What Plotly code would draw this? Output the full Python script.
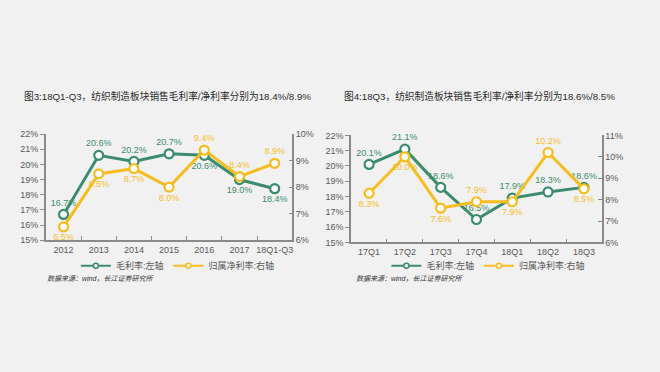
import plotly.graph_objects as go

# ---- data ----
cats_left = ["2012", "2013", "2014", "2015", "2016", "2017", "18Q1-Q3"]
gross_left = [16.7, 20.6, 20.2, 20.7, 20.6, 19.0, 18.4]
net_left = [6.5, 8.5, 8.7, 8.0, 9.4, 8.4, 8.9]

cats_right = ["17Q1", "17Q2", "17Q3", "17Q4", "18Q1", "18Q2", "18Q3"]
gross_right = [20.1, 21.1, 18.6, 16.5, 17.9, 18.3, 18.6]
net_right = [8.3, 10.0, 7.6, 7.9, 7.9, 10.2, 8.5]

gross_pos_left = ["top center", "top center", "top center", "top center", "bottom center", "bottom center", "bottom center"]
net_pos_left = ["bottom center", "bottom center", "bottom center", "bottom center", "top center", "top center", "top center"]
gross_pos_right = ["top center", "top center", "top center", "top center", "top center", "top center", "top center"]
net_pos_right = ["bottom center", "bottom center", "bottom center", "top center", "bottom center", "top center", "bottom center"]

title_left = "图3:18Q1-Q3，纺织制造板块销售毛利率/净利率分别为18.4%/8.9%"
title_right = "图4:18Q3，纺织制造板块销售毛利率/净利率分别为18.6%/8.5%"
source_text = "数据来源：wind，长江证券研究所"
name_gross = "毛利率:左轴"
name_net = "归属净利率:右轴"

GREEN = "#3b8c6c"
YELLOW = "#f5bd1f"
BG = "#f1f1f1"
AX = "#8a8a8a"
FONT = "Liberation Sans, Noto Sans CJK SC, sans-serif"

fig = go.Figure()

def add_pair(cats, g, n, gpos, npos, xa, ya, ya2, legend):
    fig.add_trace(go.Scatter(
        x=cats, y=g, name=name_gross, mode="lines+markers+text",
        text=[f"{v:.1f}%" for v in g], textposition=gpos,
        textfont=dict(color=GREEN, size=9),
        line=dict(color=GREEN, width=3),
        marker=dict(size=9, color="white", line=dict(color=GREEN, width=2.2)),
        xaxis=xa, yaxis=ya, showlegend=False, cliponaxis=False))
    fig.add_trace(go.Scatter(
        x=cats, y=n, name=name_net, mode="lines+markers+text",
        text=[f"{v:.1f}%" for v in n], textposition=npos,
        textfont=dict(color=YELLOW, size=9),
        line=dict(color=YELLOW, width=3),
        marker=dict(size=9, color="white", line=dict(color=YELLOW, width=2.2)),
        xaxis=xa, yaxis=ya2, showlegend=False, cliponaxis=False))
    # legend-only entries with smaller symbols
    for nm, col in ((name_gross, GREEN), (name_net, YELLOW)):
        fig.add_trace(go.Scatter(
            x=[None], y=[None], name=nm, mode="lines+markers",
            line=dict(color=col, width=2),
            marker=dict(size=5, color="white", line=dict(color=col, width=1.5)),
            xaxis=xa, yaxis=ya, legend=legend, showlegend=True))

add_pair(cats_left, gross_left, net_left, gross_pos_left, net_pos_left, "x", "y", "y2", "legend")
add_pair(cats_right, gross_right, net_right, gross_pos_right, net_pos_right, "x2", "y3", "y4", "legend2")

xcommon = dict(type="category", showline=True, linecolor=AX, linewidth=1.5,
               ticks="inside", ticklen=4, tickcolor=AX, tickson="boundaries",
               showgrid=False, zeroline=False, range=[-0.5, 6.5], tickangle=0,
               tickfont=dict(size=9, color="#595959"))
ycommon = dict(showline=True, linecolor=AX, linewidth=1.5, ticklen=4, tickcolor=AX,
               showgrid=False, zeroline=False, ticksuffix="%", dtick=1,
               tickfont=dict(size=9, color="#595959"))

legcommon = dict(orientation="h", xanchor="left", yanchor="middle", y=(372-268)/372,
                 font=dict(size=9, color="#595959"), bgcolor="rgba(0,0,0,0)",
                 itemwidth=30)

fig.update_layout(
    width=660, height=372, paper_bgcolor=BG, plot_bgcolor=BG,
    margin=dict(l=0, r=0, t=0, b=0),
    font=dict(family=FONT, color="#595959"),
    xaxis=dict(domain=[0.0697, 0.4435], anchor="y", **xcommon),
    yaxis=dict(domain=[0.3503, 0.6433], anchor="x", range=[15, 22], ticks="outside", **ycommon),
    yaxis2=dict(overlaying="y", side="right", anchor="x", range=[6, 10], ticks="inside", **ycommon),
    xaxis2=dict(domain=[0.5329, 0.9132], anchor="y3", **xcommon),
    yaxis3=dict(domain=[0.3441, 0.6398], anchor="x2", range=[15, 22], ticks="outside", **ycommon),
    yaxis4=dict(overlaying="y3", side="right", anchor="x2", range=[6, 11], ticks="inside", **ycommon),
    legend=dict(x=76/660, **legcommon),
    legend2=dict(x=387/660, **legcommon),
    showlegend=True,
)

fig.add_annotation(text=title_left, xref="paper", yref="paper", x=22/660, y=(372-93)/372,
                   xanchor="left", yanchor="middle", showarrow=False,
                   font=dict(size=9.7, color="#2b2b2b"))
fig.add_annotation(text=title_right, xref="paper", yref="paper", x=343/660, y=(372-93)/372,
                   xanchor="left", yanchor="middle", showarrow=False,
                   font=dict(size=9.7, color="#2b2b2b"))
for xs in (45, 355):
    fig.add_annotation(text=f"<i>{source_text}</i>", xref="paper", yref="paper", x=xs/660,
                       y=(372-281)/372, xanchor="left", yanchor="middle", showarrow=False,
                       font=dict(size=7, color="#333333"))

fig.write_html("out.html", config={"displayModeBar": False},
               post_script="document.body.style.margin='0';document.body.style.overflow='hidden';")
